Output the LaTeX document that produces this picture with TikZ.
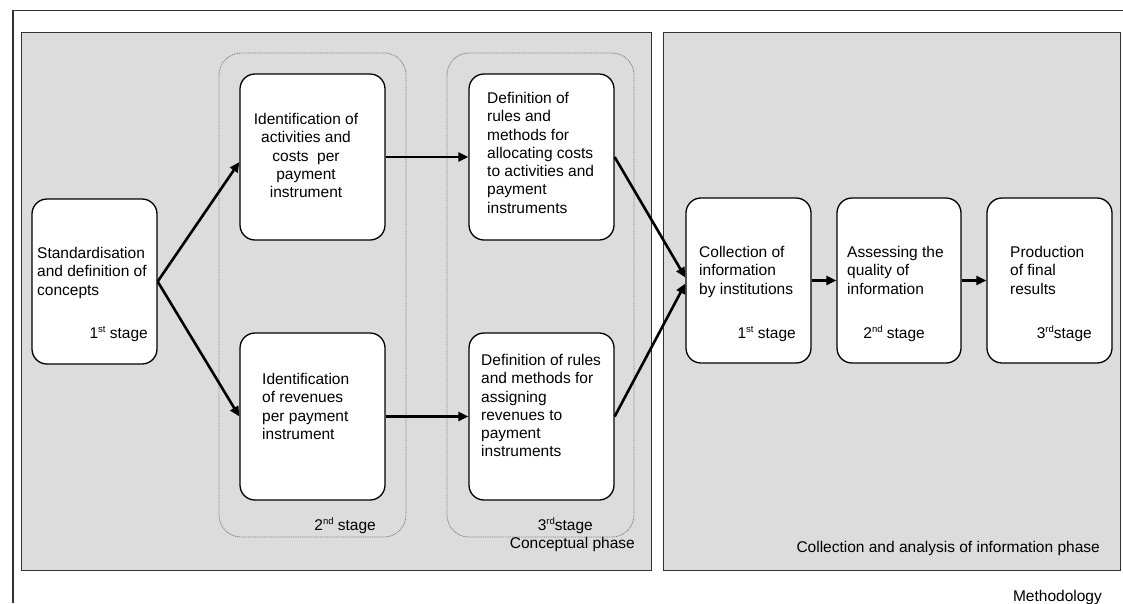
\documentclass[tikz,border=0pt]{standalone}
\usepackage{fontspec}
\setmainfont{Liberation Sans}
\usetikzlibrary{arrows.meta,calc}
\definecolor{panelgray}{RGB}{220,220,220}
\definecolor{edgegray}{RGB}{50,50,50}
\newcommand\ordsup[1]{\raisebox{5.5pt}{\fontsize{9.5}{9.5}\selectfont #1}}
\tikzset{
  panel/.style={draw=edgegray,line width=1.4pt,fill=panelgray,inner sep=0pt,anchor=north west},
  group/.style={draw=gray,line width=0.8pt,dash pattern=on 1pt off 0.8pt,rounded corners=22pt,inner sep=0pt},
  box/.style={draw=black,line width=1.3pt,fill=white,rounded corners=15pt,inner sep=0pt},
  txt/.style={inner sep=0pt,font=\fontsize{15.5}{18.3}\selectfont},
  ltxt/.style={txt,align=left,anchor=north west},
  ctxt/.style={txt,align=center,anchor=north},
  rtxt/.style={txt,anchor=base east},
  flow/.style={line width=2.6pt,-{Triangle[length=10pt,width=9pt]}}
}
\begin{document}
\begin{tikzpicture}[x=1pt,y=-1pt]
\useasboundingbox (0,0) rectangle (1123,603);
% outer frame
\coordinate (frameTR) at (1123,10.5);
\coordinate (frameTL) at (13,10.5);
\coordinate (frameBL) at (13,603);
\draw[edgegray,line width=1.1pt] (frameTR) -- (frameTL) -- (frameBL);
% panels
\node[panel,minimum width=630pt,minimum height=538pt] (panelL) at (21,32) {};
\node[panel,minimum width=457pt,minimum height=538pt] (panelR) at (663,32) {};
% dashed groups
\node[group,minimum width=187pt,minimum height=484pt] (grp2) at (312.5,295) {};
\node[group,minimum width=187pt,minimum height=484pt] (grp3) at (540.5,295) {};
% boxes
\node[box,minimum width=125pt,minimum height=165pt] (std) at (94.5,281.5) {};
\node[box,minimum width=145pt,minimum height=166pt] (act) at (312.5,157) {};
\node[box,minimum width=145pt,minimum height=167pt] (rev) at (312.5,416.5) {};
\node[box,minimum width=145pt,minimum height=166pt] (defa) at (541.5,157) {};
\node[box,minimum width=145pt,minimum height=167pt] (defb) at (541.5,416.5) {};
\node[box,minimum width=125pt,minimum height=165pt] (col) at (748.5,280.5) {};
\node[box,minimum width=124pt,minimum height=165pt] (ass) at (899,280.5) {};
\node[box,minimum width=125pt,minimum height=165pt] (prod) at (1049.5,280.5) {};
% texts
\node[ltxt] (stdT) at (37,247) {Standardisation\\and definition of\\concepts};
\node[rtxt] (stdS) at (148,338) {1\ordsup{st} stage};
\node[ctxt] (actT) at (306,113) {Identification of\\activities and\\costs\ \ per\\payment\\instrument};
\node[ltxt] (revT) at (262,373) {Identification\\of revenues\\per payment\\instrument};
\node[ltxt] (defaT) at (487,92) {Definition of\\rules and\\methods for\\allocating costs\\to activities and\\payment\\instruments};
\node[ltxt] (defbT) at (481,354) {Definition of rules\\and methods for\\assigning\\revenues to\\payment\\instruments};
\node[rtxt] (s2) at (376,530) {2\ordsup{nd} stage};
\node[rtxt] (s3) at (593,530) {3\ordsup{rd}stage};
\node[rtxt] (cphase) at (635,548) {Conceptual phase};
\node[ltxt] (colT) at (699,246) {Collection of\\information\\by institutions};
\node[rtxt] (colS) at (796,338) {1\ordsup{st} stage};
\node[ltxt] (assT) at (847,246) {Assessing the\\quality of\\information};
\node[rtxt] (assS) at (925,338) {2\ordsup{nd} stage};
\node[ltxt] (prodT) at (1010,246) {Production\\of final\\results};
\node[rtxt] (prodS) at (1092,338) {3\ordsup{rd}stage};
\node[rtxt] (aphase) at (1100,552) {Collection and analysis of information phase};
\node[rtxt] (meth) at (1102,601) {Methodology};
% connectors
\draw[flow] (std.east) -- ($(act.west)+(0,5)$);
\draw[flow] (std.east) -- (rev.west);
\draw[flow] (act.east) -- (defa.west);
\draw[flow] (rev.east) -- (defb.west);
\draw[flow] (defa.east) -- ($(col.west)+(0,-3)$);
\draw[flow] (defb.east) -- ($(col.west)+(0,3)$);
\draw[flow] (col.east) -- (ass.west);
\draw[flow] (ass.east) -- (prod.west);
\end{tikzpicture}
\end{document}
